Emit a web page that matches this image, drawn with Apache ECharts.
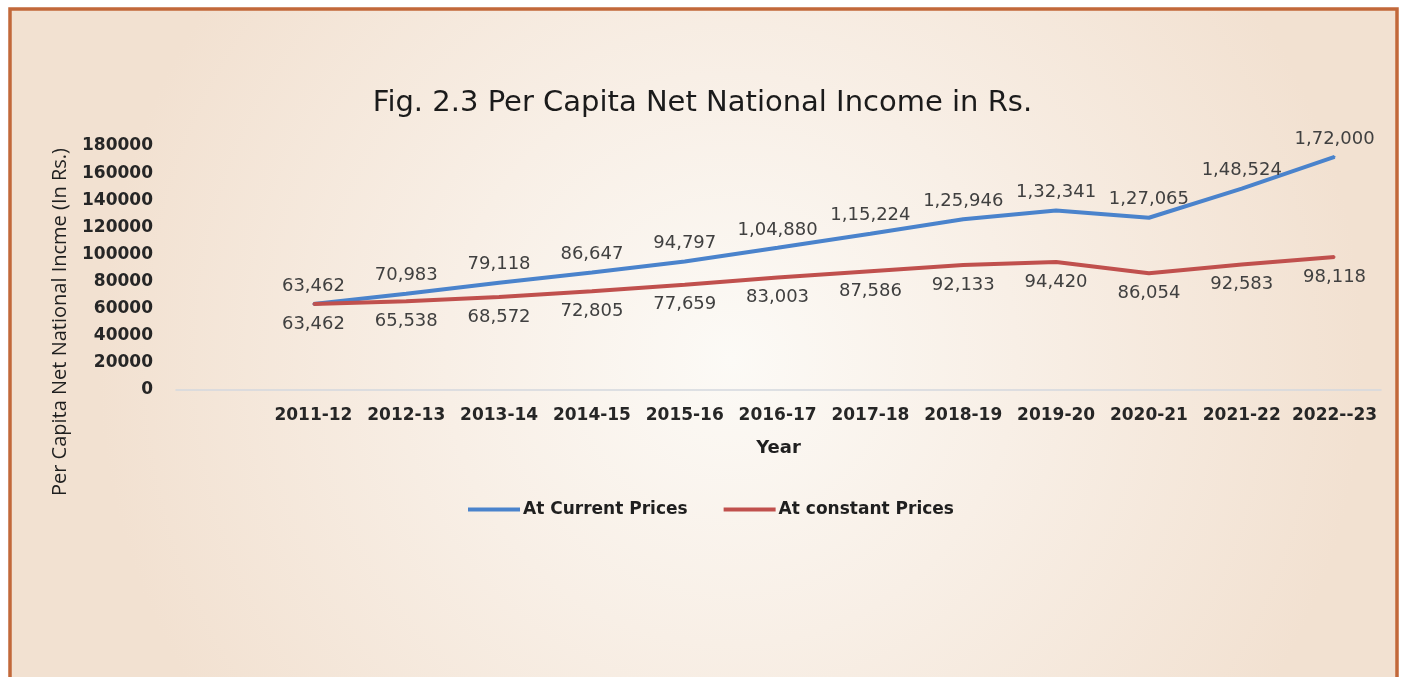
<!DOCTYPE html>
<html>
<head>
<meta charset="utf-8">
<script src="https://cdn.jsdelivr.net/npm/echarts@6/dist/echarts.min.js"></script>
<style>
html,body{margin:0;padding:0;background:#ffffff;}
#chart{width:1405px;height:677px;}
</style>
</head>
<body>
<div id="chart"></div>
<script>
var years = ['2011-12','2012-13','2013-14','2014-15','2015-16','2016-17','2017-18','2018-19','2019-20','2020-21','2021-22','2022--23'];
var currentPrices = [63462,70983,79118,86647,94797,104880,115224,125946,132341,127065,148524,172000];
var constantPrices = [63462,65538,68572,72805,77659,83003,87586,92133,94420,86054,92583,98118];
var seriesNames = ['At Current Prices','At constant Prices'];
var seriesColors = ['#4a83cc','#c0504d'];
var yTicks = {min:0, max:180000, interval:20000};

function indianFormat(n){
  var s = String(Math.round(n));
  if (s.length <= 3) return s;
  var last3 = s.slice(-3);
  var rest = s.slice(0, -3);
  rest = rest.replace(/\B(?=(\d{2})+(?!\d))/g, ',');
  return rest + ',' + last3;
}

var numFont = 'DejaVu Sans';
var txtFont = 'Open Sans';

var chart = echarts.init(document.getElementById('chart'));
chart.setOption({
  animation:false,
  backgroundColor:'#ffffff',
  graphic:[
    {type:'rect', z:-10, silent:true,
     shape:{x:10,y:9,width:1387,height:700},
     style:{fill:{type:'radial',x:0.52,y:0.5,r:0.9,colorStops:[{offset:0,color:'#fcfaf6'},{offset:0.45,color:'#f8efe6'},{offset:1,color:'#f2e1d1'}]},
            stroke:'#c2683a', lineWidth:3.5}},
    {type:'text', x:60, y:322, rotation:Math.PI/2, silent:true,
     style:{text:'Per Capita Net National Incme (In Rs.)', fontFamily:txtFont, fontSize:20, fill:'#1f1f1f', align:'center', verticalAlign:'middle'}}
  ],
  title:{
    text:'Fig. 2.3 Per Capita Net National Income in Rs.',
    left:'center', top:84,
    textStyle:{fontFamily:numFont, fontSize:29, fontWeight:'normal', color:'#1b1b1b'}
  },
  legend:{
    data:[
      {name:seriesNames[0], itemStyle:{color:seriesColors[0], opacity:1}},
      {name:seriesNames[1], itemStyle:{color:seriesColors[1], opacity:1}}
    ],
    left:463, top:496,
    icon:'rect', itemWidth:52, itemHeight:4, itemGap:36,
    textStyle:{fontFamily:numFont, fontSize:17, fontWeight:'bold', color:'#1f1f1f', padding:[0,0,0,-2]}
  },
  grid:[
    {left:267, top:146, width:1114, height:244, containLabel:false},
    {left:176, top:146, width:1205, height:244, containLabel:false}
  ],
  xAxis:[
    {type:'category', gridIndex:0, data:years, boundaryGap:true,
     axisLine:{show:false}, axisTick:{show:false},
     axisLabel:{margin:17, fontFamily:numFont, fontSize:17, fontWeight:'bold', color:'#262626', interval:0}},
    {type:'value', gridIndex:1, min:0, max:1,
     axisLine:{show:true, lineStyle:{color:'#d3d7de', width:1.5}}, axisTick:{show:false}, axisLabel:{show:false}, splitLine:{show:false},
     name:'Year', nameLocation:'middle', nameGap:49,
     nameTextStyle:{fontFamily:numFont, fontSize:18, fontWeight:'bold', color:'#1f1f1f'}}
  ],
  yAxis:[
    {type:'value', gridIndex:0, min:yTicks.min, max:yTicks.max, interval:yTicks.interval,
     axisLine:{show:false}, axisTick:{show:false}, splitLine:{show:false},
     axisLabel:{margin:114, fontFamily:numFont, fontSize:17, fontWeight:'bold', color:'#262626',
                formatter:function(v){return String(v);}}},
    {type:'value', gridIndex:1, min:0, max:1, show:false}
  ],
  series:[
    {name:seriesNames[0], type:'line', xAxisIndex:0, yAxisIndex:0, data:currentPrices,
     showSymbol:true, symbol:'circle', symbolSize:2, itemStyle:{color:seriesColors[0]}, color:seriesColors[0],
     lineStyle:{width:4, color:seriesColors[0]},
     label:{show:true, position:'top', distance:8, formatter:function(p){return indianFormat(p.value);},
            fontFamily:numFont, fontSize:18, color:'#404040'}},
    {name:seriesNames[1], type:'line', xAxisIndex:0, yAxisIndex:0, data:constantPrices,
     showSymbol:true, symbol:'circle', symbolSize:2, itemStyle:{color:seriesColors[1]}, color:seriesColors[1],
     lineStyle:{width:4, color:seriesColors[1]},
     label:{show:true, position:'bottom', distance:10, formatter:function(p){return indianFormat(p.value);},
            fontFamily:numFont, fontSize:18, color:'#404040'}}
  ]
});
</script>
</body>
</html>
